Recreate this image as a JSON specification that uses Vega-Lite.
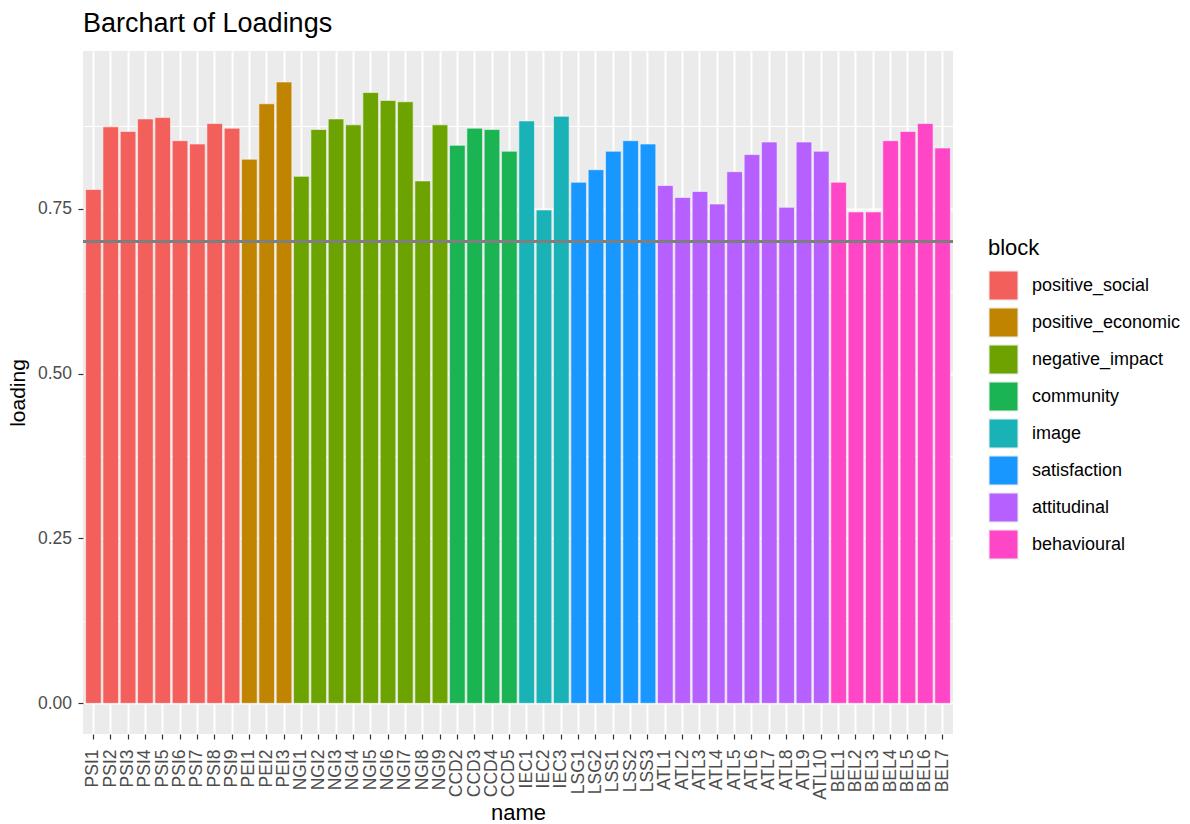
{
  "$schema": "https://vega.github.io/schema/vega-lite/v6.json",
  "autosize": "none",
  "width": 870,
  "height": 683,
  "padding": {"left": 83, "top": 51, "right": 237, "bottom": 90},
  "background": "white",
  "title": {"text": "Barchart of Loadings", "anchor": "start", "frame": "group", "fontSize": 27, "font": "Liberation Sans", "fontWeight": "normal", "color": "#000000", "offset": 13},
  "config": {
    "view": {"fill": "#EBEBEB", "stroke": null},
    "font": "Liberation Sans",
    "axis": {"labelFont": "Liberation Sans", "titleFont": "Liberation Sans", "labelColor": "#4D4D4D", "tickColor": "#333333", "titleColor": "#000000", "titleFontWeight": "normal", "domain": false, "gridColor": "#FFFFFF"}
  },
  "data": {"values": [
    {"name": "PSI1", "loading": 0.779, "block": "positive_social"},
    {"name": "PSI2", "loading": 0.874, "block": "positive_social"},
    {"name": "PSI3", "loading": 0.867, "block": "positive_social"},
    {"name": "PSI4", "loading": 0.886, "block": "positive_social"},
    {"name": "PSI5", "loading": 0.888, "block": "positive_social"},
    {"name": "PSI6", "loading": 0.853, "block": "positive_social"},
    {"name": "PSI7", "loading": 0.848, "block": "positive_social"},
    {"name": "PSI8", "loading": 0.879, "block": "positive_social"},
    {"name": "PSI9", "loading": 0.872, "block": "positive_social"},
    {"name": "PEI1", "loading": 0.825, "block": "positive_economic"},
    {"name": "PEI2", "loading": 0.909, "block": "positive_economic"},
    {"name": "PEI3", "loading": 0.942, "block": "positive_economic"},
    {"name": "NGI1", "loading": 0.799, "block": "negative_impact"},
    {"name": "NGI2", "loading": 0.870, "block": "negative_impact"},
    {"name": "NGI3", "loading": 0.886, "block": "negative_impact"},
    {"name": "NGI4", "loading": 0.877, "block": "negative_impact"},
    {"name": "NGI5", "loading": 0.926, "block": "negative_impact"},
    {"name": "NGI6", "loading": 0.914, "block": "negative_impact"},
    {"name": "NGI7", "loading": 0.912, "block": "negative_impact"},
    {"name": "NGI8", "loading": 0.792, "block": "negative_impact"},
    {"name": "NGI9", "loading": 0.877, "block": "negative_impact"},
    {"name": "CCD2", "loading": 0.846, "block": "community"},
    {"name": "CCD3", "loading": 0.872, "block": "community"},
    {"name": "CCD4", "loading": 0.870, "block": "community"},
    {"name": "CCD5", "loading": 0.837, "block": "community"},
    {"name": "IEC1", "loading": 0.883, "block": "image"},
    {"name": "IEC2", "loading": 0.748, "block": "image"},
    {"name": "IEC3", "loading": 0.890, "block": "image"},
    {"name": "LSG1", "loading": 0.790, "block": "satisfaction"},
    {"name": "LSG2", "loading": 0.809, "block": "satisfaction"},
    {"name": "LSS1", "loading": 0.837, "block": "satisfaction"},
    {"name": "LSS2", "loading": 0.853, "block": "satisfaction"},
    {"name": "LSS3", "loading": 0.848, "block": "satisfaction"},
    {"name": "ATL1", "loading": 0.785, "block": "attitudinal"},
    {"name": "ATL2", "loading": 0.767, "block": "attitudinal"},
    {"name": "ATL3", "loading": 0.776, "block": "attitudinal"},
    {"name": "ATL4", "loading": 0.757, "block": "attitudinal"},
    {"name": "ATL5", "loading": 0.806, "block": "attitudinal"},
    {"name": "ATL6", "loading": 0.832, "block": "attitudinal"},
    {"name": "ATL7", "loading": 0.851, "block": "attitudinal"},
    {"name": "ATL8", "loading": 0.752, "block": "attitudinal"},
    {"name": "ATL9", "loading": 0.851, "block": "attitudinal"},
    {"name": "ATL10", "loading": 0.837, "block": "attitudinal"},
    {"name": "BEL1", "loading": 0.790, "block": "behavioural"},
    {"name": "BEL2", "loading": 0.745, "block": "behavioural"},
    {"name": "BEL3", "loading": 0.745, "block": "behavioural"},
    {"name": "BEL4", "loading": 0.853, "block": "behavioural"},
    {"name": "BEL5", "loading": 0.867, "block": "behavioural"},
    {"name": "BEL6", "loading": 0.879, "block": "behavioural"},
    {"name": "BEL7", "loading": 0.842, "block": "behavioural"}
  ]},
  "layer": [
    {
      "mark": {"type": "bar", "stroke": "#F7F7F7", "strokeWidth": 0.6},
      "encoding": {
        "x": {"field": "name", "type": "nominal", "sort": null,
              "scale": {"paddingInner": 0.1, "paddingOuter": 0.15},
              "axis": {"title": "name", "labelAngle": -90, "labelAlign": "right", "labelBaseline": "middle", "labelFontSize": 17.5, "labelPadding": 10, "tickSize": 5, "tickWidth": 1.2, "grid": true, "gridWidth": 2, "titleFontSize": 22, "titlePadding": 3}},
        "y": {"field": "loading", "type": "quantitative",
              "scale": {"domain": [-0.0465, 0.989], "nice": false, "zero": false},
              "axis": {"title": "loading", "values": [0, 0.25, 0.5, 0.75], "format": ".2f", "labelFontSize": 17.5, "labelPadding": 6.5, "tickSize": 5, "tickWidth": 1.2, "grid": true, "gridWidth": 2, "titleFontSize": 21, "titlePadding": 9}},
        "color": {"field": "block", "type": "nominal", "sort": ["positive_social", "positive_economic", "negative_impact", "community", "image", "satisfaction", "attitudinal", "behavioural"],
                  "scale": {"domain": ["positive_social", "positive_economic", "negative_impact", "community", "image", "satisfaction", "attitudinal", "behavioural"],
                            "range": ["#F35F5B", "#C18400", "#6CA300", "#1AB452", "#18B2B7", "#1797FF", "#B660FF", "#FF46C6"]},
                  "legend": {"title": "block", "orient": "none", "legendX": 905, "legendY": 187, "padding": 0, "titleFontSize": 22, "titleFont": "Liberation Sans", "titleFontWeight": "normal", "titleColor": "#000000", "titlePadding": 10, "labelFontSize": 18, "labelFont": "Liberation Sans", "labelColor": "#000000", "labelOffset": 13, "symbolType": "square", "symbolSize": 870, "symbolStrokeColor": "#F2F2F2", "symbolStrokeWidth": 1.5, "symbolOpacity": 1, "rowPadding": 0}}
      }
    },
    {
      "mark": {"type": "rule", "color": "#7F7F7F", "strokeWidth": 2},
      "encoding": {
        "y": {"datum": 0.7, "type": "quantitative",
              "axis": {"orient": "right", "title": null, "values": [0.125, 0.375, 0.625, 0.875], "labels": false, "ticks": false, "domain": false, "grid": true, "gridWidth": 1, "gridColor": "#FFFFFF"}}
      }
    }
  ],
  "resolve": {"axis": {"y": "independent"}}
}
